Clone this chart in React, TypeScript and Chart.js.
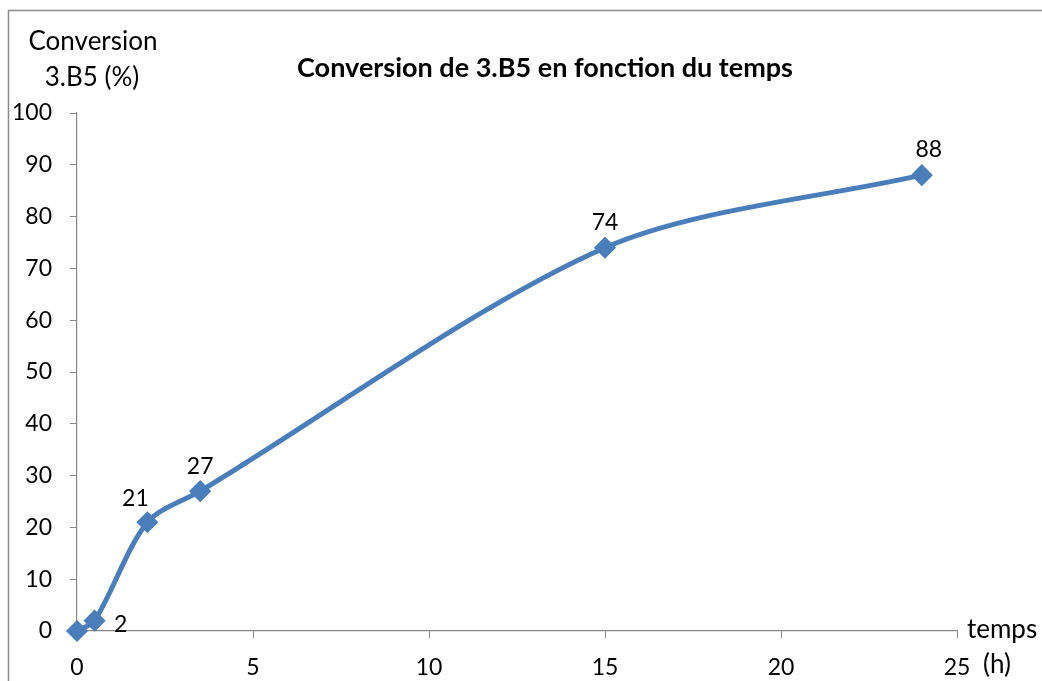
import React, { useEffect, useRef } from 'react';
import { Chart, registerables } from 'chart.js';

Chart.register(...registerables);

// ---- Data ----
const timeHours = [0, 0.5, 2, 3.5, 15, 24];
const conversionPct = [0, 2, 21, 27, 74, 88];
const pointLabels = ['', '2', '21', '27', '74', '88'];
const labelPlacement = ['none', 'right', 'aboveLeft', 'above', 'above', 'aboveRight'];
const xTickValues = [0, 5, 10, 15, 20, 25];
const yTickValues = [0, 10, 20, 30, 40, 50, 60, 70, 80, 90, 100];
const chartTitle = 'Conversion de 3.B5 en fonction du temps';
const yTitleLines = ['Conversion', '3.B5 (%)'];
const xTitle = 'temps';
const xUnit = '(h)';

const FONT = 'Lato, "Open Sans", sans-serif';
const LINE_COLOR = '#4A7EBB';
const AXIS_COLOR = '#868686';

const decorPlugin = {
  id: 'decor',
  beforeDraw(chart: any) {
    const { ctx, width, height } = chart;
    ctx.save();
    ctx.fillStyle = '#ffffff';
    ctx.fillRect(0, 0, width, height);
    ctx.strokeStyle = '#8c8c8c';
    ctx.lineWidth = 1.5;
    ctx.beginPath();
    ctx.moveTo(8.5, height);
    ctx.lineTo(8.5, 10.5);
    ctx.lineTo(width, 10.5);
    ctx.stroke();
    ctx.restore();
  },
  afterDraw(chart: any) {
    const { ctx, chartArea } = chart;
    const xs = chart.scales.x;
    ctx.save();
    ctx.fillStyle = '#000';
    ctx.textBaseline = 'middle';
    // title
    ctx.font = `bold 27px ${FONT}`;
    ctx.textAlign = 'center';
    ctx.fillText(chartTitle, 545, 68);
    // y-axis title
    ctx.font = `26px ${FONT}`;
    ctx.fillText(yTitleLines[0], 93, 42);
    ctx.fillText(yTitleLines[1], 92, 78);
    // x-axis title
    ctx.textAlign = 'left';
    ctx.fillText(xTitle, chartArea.right + 10, chartArea.bottom - 1);
    ctx.fillText(xUnit, xs.getPixelForValue(25) + 26, 665);
    // data labels
    ctx.font = `23px ${FONT}`;
    const meta = chart.getDatasetMeta(0);
    ctx.textAlign = 'center';
    meta.data.forEach((pt: any, i: number) => {
      const place = labelPlacement[i];
      if (place === 'none') return;
      let dx = 0, dy = -25;
      if (place === 'right') { dx = 26; dy = 4; }
      if (place === 'aboveLeft') { dx = -12; dy = -24; }
      if (place === 'aboveRight') { dx = 7; dy = -26; }
      ctx.fillText(pointLabels[i], pt.x + dx, pt.y + dy);
    });
    ctx.restore();
  },
};

export default function App() {
  const canvasRef = useRef<HTMLCanvasElement | null>(null);

  useEffect(() => {
    let chart: Chart | null = null;
    let cancelled = false;
    const build = () => {
      if (cancelled || !canvasRef.current) return;
      chart = new Chart(canvasRef.current, {
        type: 'scatter',
        data: {
          datasets: [
            {
              data: timeHours.map((t, i) => ({ x: t, y: conversionPct[i] })),
              showLine: true,
              clip: false,
              borderColor: LINE_COLOR,
              backgroundColor: LINE_COLOR,
              borderWidth: 5,
              tension: 0.3,
              pointStyle: 'rectRot',
              pointRadius: 10,
              pointBorderWidth: 1.5,
              pointBackgroundColor: LINE_COLOR,
              pointBorderColor: LINE_COLOR,
            },
          ],
        },
        options: {
          responsive: true,
          maintainAspectRatio: false,
          animation: false,
          layout: { padding: { top: 113, right: 85, left: 0, bottom: 0 } },
          plugins: {
            legend: { display: false },
            tooltip: { enabled: false },
            title: { display: false },
          },
          scales: {
            x: {
              type: 'linear',
              min: 0,
              max: 25,
              afterBuildTicks: (s: any) => { s.ticks = xTickValues.map((v) => ({ value: v })); },
              afterFit: (s: any) => { s.height = 50; },
              grid: { drawOnChartArea: false, drawTicks: true, tickLength: 7, color: AXIS_COLOR },
              border: { display: true, color: AXIS_COLOR, width: 1.2 },
              ticks: { padding: 16, color: '#000', font: { family: FONT, size: 23 }, maxRotation: 0 },
            },
            y: {
              type: 'linear',
              min: 0,
              max: 100,
              afterBuildTicks: (s: any) => { s.ticks = yTickValues.map((v) => ({ value: v })); },
              afterFit: (s: any) => { s.width = 77; },
              grid: { drawOnChartArea: false, drawTicks: true, tickLength: 7, color: AXIS_COLOR },
              border: { display: true, color: AXIS_COLOR, width: 1.2 },
              ticks: { padding: 18, color: '#000', font: { family: FONT, size: 23 } },
            },
          },
        },
        plugins: [decorPlugin],
      });
    };
    if ((document as any).fonts && (document as any).fonts.load) {
      Promise.all([
        (document as any).fonts.load(`23px Lato`),
        (document as any).fonts.load(`bold 27px Lato`),
      ]).then(build, build);
    } else {
      build();
    }
    return () => {
      cancelled = true;
      if (chart) chart.destroy();
    };
  }, []);

  return (
    <div style={{ position: 'absolute', left: 0, top: 0, width: 1042, height: 681, background: '#fff' }}>
      <canvas ref={canvasRef} />
    </div>
  );
}
